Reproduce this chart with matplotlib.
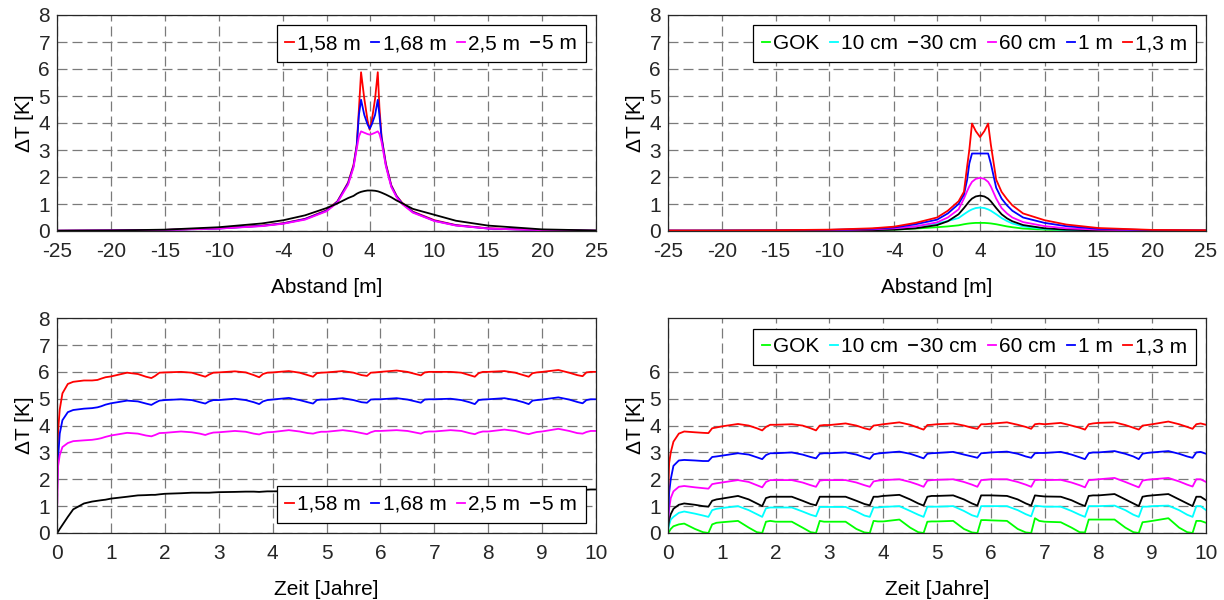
import matplotlib
matplotlib.use("Agg")
import matplotlib.pyplot as plt

plt.rcParams["font.family"] = ["Liberation Sans", "DejaVu Sans"]
plt.rcParams["font.size"] = 15

# --- top row: profiles over distance ---------------------------------------
x_top_left = [-25, -20, -15, -10, -6, -4, -2, 0, 1, 2, 2.5, 2.8, 3.0, 3.2, 3.5, 3.8, 4.0,
              4.2, 4.5, 4.75, 4.9, 5.1, 5.5, 6, 6.5, 7, 8, 10, 12, 15, 20, 25]
dt_158 = [0.01, 0.02, 0.04, 0.1, 0.2, 0.29, 0.45, 0.77, 1.1, 1.8, 2.45, 3.2, 4.5, 5.88, 4.9, 4.1, 3.75,
          4.1, 4.9, 5.88, 4.6, 3.5, 2.5, 1.7, 1.3, 1.05, 0.72, 0.4, 0.22, 0.1, 0.03, 0.01]
dt_168 = [0.01, 0.02, 0.04, 0.09, 0.19, 0.28, 0.44, 0.75, 1.08, 1.77, 2.4, 3.15, 4.3, 4.86, 4.3, 3.95, 3.79,
          3.95, 4.3, 4.86, 4.3, 3.45, 2.45, 1.67, 1.28, 1.03, 0.7, 0.38, 0.21, 0.09, 0.03, 0.01]
dt_250 = [0.01, 0.02, 0.04, 0.09, 0.18, 0.27, 0.42, 0.73, 1.05, 1.72, 2.35, 3.05, 3.5, 3.69, 3.64, 3.59, 3.57,
          3.59, 3.64, 3.69, 3.6, 3.3, 2.4, 1.63, 1.25, 1.0, 0.68, 0.37, 0.2, 0.09, 0.03, 0.01]
dt_500 = [0.01, 0.02, 0.05, 0.14, 0.28, 0.4, 0.58, 0.85, 1.02, 1.22, 1.3, 1.38, 1.42, 1.45, 1.48, 1.5, 1.5,
          1.5, 1.49, 1.47, 1.45, 1.42, 1.35, 1.25, 1.13, 1.03, 0.82, 0.6, 0.38, 0.2, 0.06, 0.02]

x_top_right = [-25, -20, -15, -10, -6, -4, -2, 0, 1, 2, 2.5, 2.8, 3.0, 3.25, 3.6, 4.0, 4.4, 4.75,
               5.0, 5.5, 6, 6.5, 7, 8, 10, 12, 15, 20, 25]
dt_gok = [0.0, 0.01, 0.01, 0.02, 0.03, 0.05, 0.09, 0.14, 0.17, 0.21, 0.25, 0.27, 0.28, 0.29, 0.3, 0.3,
          0.3, 0.29, 0.28, 0.25, 0.21, 0.17, 0.14, 0.09, 0.05, 0.03, 0.02, 0.01, 0.01]
dt_10cm = [0.0, 0.01, 0.01, 0.02, 0.04, 0.08, 0.17, 0.28, 0.37, 0.48, 0.62, 0.7, 0.75, 0.8, 0.85, 0.87,
           0.85, 0.8, 0.75, 0.62, 0.48, 0.37, 0.28, 0.17, 0.08, 0.04, 0.02, 0.01, 0.01]
dt_30cm = [0.0, 0.005, 0.01, 0.015, 0.03, 0.05, 0.1, 0.22, 0.36, 0.62, 0.85, 1.0, 1.1, 1.2, 1.28, 1.31,
           1.28, 1.2, 1.1, 0.85, 0.62, 0.47, 0.36, 0.22, 0.1, 0.05, 0.025, 0.012, 0.008]
dt_60cm = [0.01, 0.01, 0.02, 0.03, 0.06, 0.1, 0.17, 0.32, 0.5, 0.8, 1.2, 1.48, 1.65, 1.82, 1.93, 1.97,
           1.93, 1.82, 1.65, 1.2, 0.85, 0.65, 0.5, 0.33, 0.18, 0.1, 0.05, 0.02, 0.01]
dt_1m = [0.02, 0.02, 0.02, 0.04, 0.08, 0.13, 0.25, 0.42, 0.65, 1.0, 1.35, 1.9, 2.5, 2.87, 2.87, 2.87,
         2.87, 2.87, 2.5, 1.6, 1.2, 0.95, 0.75, 0.5, 0.3, 0.18, 0.08, 0.03, 0.02]
dt_13m = [0.02, 0.02, 0.03, 0.05, 0.1, 0.16, 0.3, 0.5, 0.75, 1.1, 1.45, 2.4, 3.0, 3.98, 3.7, 3.48,
          3.7, 3.98, 3.2, 1.9, 1.45, 1.18, 0.95, 0.65, 0.4, 0.24, 0.11, 0.04, 0.03]

# --- bottom row: time series ------------------------------------------------
t_years = [0, 0.02, 0.05, 0.1, 0.2, 0.3, 0.5, 0.65, 0.75, 0.82, 0.9,
           1.0, 1.3, 1.5, 1.65, 1.75, 1.82, 1.9,
           2.0, 2.3, 2.5, 2.65, 2.75, 2.82, 2.9,
           3.0, 3.3, 3.5, 3.65, 3.75, 3.82, 3.9,
           4.0, 4.3, 4.5, 4.65, 4.75, 4.82, 4.9,
           5.0, 5.3, 5.5, 5.65, 5.75, 5.82, 5.9,
           6.0, 6.3, 6.5, 6.65, 6.75, 6.82, 6.9,
           7.0, 7.3, 7.5, 7.65, 7.75, 7.82, 7.9,
           8.0, 8.3, 8.5, 8.65, 8.75, 8.82, 8.9,
           9.0, 9.3, 9.5, 9.65, 9.75, 9.82, 9.9,
           10.0]

ts_158 = [2.7, 3.8, 4.6, 5.2, 5.55, 5.63, 5.68, 5.68, 5.7, 5.75, 5.8,
          5.83, 5.97, 5.92, 5.82, 5.77, 5.85, 5.97,
          5.98, 6.0, 5.97, 5.88, 5.82, 5.9, 5.97,
          5.98, 6.02, 5.98, 5.88, 5.8, 5.92, 5.97,
          5.98, 6.03, 5.97, 5.88, 5.82, 5.95, 5.97,
          5.98, 6.03, 5.97, 5.88, 5.85, 5.97, 5.98,
          6.0, 6.05, 6.0, 5.92, 5.87, 5.98, 6.0,
          6.0, 6.0, 5.97, 5.88, 5.82, 5.95, 6.0,
          6.0, 6.03, 5.97, 5.88, 5.82, 5.95, 5.98,
          6.0, 6.07, 5.97, 5.88, 5.84, 5.98, 6.0,
          6.0]
ts_168 = [1.7, 2.8, 3.7, 4.2, 4.5, 4.58, 4.63, 4.65, 4.68, 4.72, 4.78,
          4.83, 4.93, 4.9, 4.82, 4.77, 4.85, 4.93,
          4.95, 4.98, 4.95, 4.87, 4.82, 4.9, 4.95,
          4.95, 5.0, 4.95, 4.87, 4.8, 4.9, 4.95,
          4.97, 5.03, 4.95, 4.87, 4.82, 4.95, 4.97,
          4.97, 5.02, 4.95, 4.87, 4.85, 4.97, 4.98,
          4.98, 5.02, 4.97, 4.9, 4.85, 4.97, 4.98,
          4.98, 5.0, 4.95, 4.87, 4.8, 4.95, 4.97,
          4.98, 5.02, 4.95, 4.87, 4.8, 4.93, 4.95,
          4.97, 5.05, 4.97, 4.88, 4.83, 4.95, 4.98,
          4.98]
ts_250 = [0.75, 2.5, 2.9, 3.2, 3.35, 3.42, 3.45, 3.47, 3.5, 3.53, 3.58,
          3.63, 3.73, 3.7, 3.63, 3.6, 3.65, 3.72,
          3.73, 3.78, 3.75, 3.7, 3.65, 3.7, 3.74,
          3.75, 3.8, 3.77, 3.7, 3.67, 3.72, 3.75,
          3.76, 3.83, 3.78, 3.72, 3.7, 3.74, 3.77,
          3.77, 3.83, 3.78, 3.72, 3.68, 3.75, 3.8,
          3.8, 3.83, 3.8, 3.74, 3.7, 3.76, 3.78,
          3.78, 3.83, 3.8, 3.72, 3.68, 3.74, 3.78,
          3.78, 3.85, 3.8, 3.72, 3.68, 3.72, 3.76,
          3.78, 3.88, 3.8, 3.72, 3.7, 3.76, 3.8,
          3.8]
ts_500 = [0.0, 0.05, 0.15, 0.3, 0.6, 0.88, 1.1, 1.17, 1.2, 1.22, 1.24,
          1.28, 1.35, 1.4, 1.41, 1.42, 1.42, 1.44,
          1.46, 1.48, 1.5, 1.5, 1.5, 1.5, 1.51,
          1.52, 1.53, 1.54, 1.54, 1.53, 1.54, 1.55,
          1.55, 1.56, 1.57, 1.56, 1.55, 1.56, 1.57,
          1.57, 1.58, 1.59, 1.58, 1.57, 1.58, 1.59,
          1.6, 1.6, 1.6, 1.59, 1.58, 1.59, 1.6,
          1.6, 1.61, 1.61, 1.6, 1.59, 1.6, 1.61,
          1.6, 1.62, 1.62, 1.61, 1.6, 1.6, 1.61,
          1.62, 1.63, 1.63, 1.62, 1.61, 1.61, 1.62,
          1.62]

ts_gok = [0.0, 0.05, 0.15, 0.25, 0.32, 0.35, 0.15, 0.03, 0.0, 0.32, 0.38,
          0.4, 0.45, 0.2, 0.03, 0.0, 0.42, 0.45,
          0.42, 0.42, 0.2, 0.03, 0.0, 0.45, 0.42,
          0.42, 0.42, 0.15, 0.02, 0.0, 0.45, 0.43,
          0.43, 0.5, 0.2, 0.03, 0.0, 0.42, 0.43,
          0.43, 0.45, 0.15, 0.02, 0.0, 0.48, 0.48,
          0.47, 0.45, 0.15, 0.02, 0.0, 0.55, 0.45,
          0.42, 0.4, 0.2, 0.03, 0.02, 0.5, 0.5,
          0.5, 0.5, 0.2, 0.03, 0.0, 0.4, 0.42,
          0.45, 0.55, 0.2, 0.03, 0.0, 0.45, 0.45,
          0.38]
ts_10cm = [0.1, 0.3, 0.5, 0.6, 0.75, 0.8, 0.72, 0.65, 0.6, 0.85, 0.9,
           0.93, 1.0, 0.85, 0.7, 0.6, 0.92, 0.95,
           0.95, 0.95, 0.8, 0.68, 0.62, 0.97, 0.97,
           0.97, 0.97, 0.8, 0.65, 0.6, 0.95, 0.95,
           0.97, 1.0, 0.82, 0.68, 0.6, 0.98, 0.98,
           0.98, 1.0, 0.82, 0.66, 0.6, 1.0, 1.0,
           1.0, 1.0, 0.85, 0.7, 0.62, 1.02, 1.0,
           0.98, 0.98, 0.82, 0.68, 0.6, 1.0, 1.0,
           1.0, 1.02, 0.85, 0.68, 0.6, 0.98, 0.98,
           1.0, 1.02, 0.85, 0.68, 0.6, 1.0, 1.0,
           0.85]
ts_30cm = [0.2, 0.5, 0.7, 0.9, 1.05, 1.1, 1.05, 1.0, 0.98, 1.2, 1.25,
           1.28, 1.38, 1.25, 1.1, 1.0, 1.3, 1.35,
           1.35, 1.35, 1.2, 1.08, 1.03, 1.35, 1.35,
           1.35, 1.35, 1.2, 1.08, 1.03, 1.35, 1.35,
           1.38, 1.42, 1.25, 1.1, 1.02, 1.35, 1.38,
           1.38, 1.4, 1.25, 1.1, 1.02, 1.4, 1.4,
           1.4, 1.38, 1.25, 1.1, 1.02, 1.4, 1.38,
           1.36, 1.35, 1.22, 1.08, 1.0, 1.38, 1.4,
           1.4, 1.45, 1.25, 1.1, 1.0, 1.35, 1.38,
           1.4, 1.45, 1.25, 1.1, 1.0, 1.35, 1.35,
           1.22]
ts_60cm = [0.4, 0.9, 1.3, 1.55, 1.72, 1.75, 1.7, 1.67, 1.65, 1.82, 1.85,
           1.88, 1.97, 1.9, 1.78, 1.7, 1.9, 1.97,
           1.97, 1.97, 1.88, 1.78, 1.72, 1.95, 1.97,
           1.97, 1.97, 1.88, 1.78, 1.72, 1.92, 1.95,
           1.97, 2.0, 1.9, 1.8, 1.72, 1.95, 1.97,
           1.98, 2.0, 1.9, 1.8, 1.72, 1.97, 1.98,
           2.0, 2.0, 1.9, 1.8, 1.72, 1.97, 1.98,
           1.97, 1.98, 1.88, 1.78, 1.7, 1.97, 1.98,
           2.0, 2.05, 1.9, 1.78, 1.7, 1.95, 1.98,
           2.0, 2.05, 1.92, 1.8, 1.73, 2.0, 2.0,
           1.9]
ts_1m = [0.5, 1.5, 2.0, 2.5, 2.7, 2.72, 2.7, 2.68, 2.68, 2.83, 2.85,
         2.88, 2.97, 2.92, 2.82, 2.75, 2.9, 2.97,
         2.97, 3.0, 2.92, 2.83, 2.78, 2.95, 2.97,
         2.97, 3.0, 2.92, 2.82, 2.76, 2.93, 2.96,
         2.98, 3.03, 2.95, 2.85, 2.78, 2.95, 2.97,
         2.98, 3.02, 2.92, 2.85, 2.8, 2.97, 2.98,
         3.0, 3.03, 2.95, 2.85, 2.8, 2.97, 2.98,
         2.98, 3.02, 2.92, 2.82, 2.75, 2.97, 3.0,
         3.0, 3.05, 2.95, 2.85, 2.75, 2.95, 2.98,
         3.0, 3.05, 2.95, 2.85, 2.8, 3.0, 3.02,
         2.95]
ts_13m = [1.3, 2.6, 3.0, 3.4, 3.7, 3.78, 3.75, 3.73, 3.72, 3.9, 3.93,
          3.97, 4.06, 4.0, 3.9, 3.82, 3.95, 4.03,
          4.03, 4.05, 4.0, 3.9, 3.82, 4.0, 4.02,
          4.02, 4.08, 4.0, 3.9, 3.85, 4.0, 4.02,
          4.05, 4.12, 4.03, 3.92, 3.85, 4.02, 4.03,
          4.05, 4.08, 4.0, 3.92, 3.88, 4.05, 4.05,
          4.07, 4.12, 4.03, 3.95, 3.88, 4.05, 4.07,
          4.05, 4.1, 4.0, 3.92, 3.85, 4.05, 4.08,
          4.1, 4.12, 4.02, 3.92, 3.85, 4.0, 4.02,
          4.05, 4.15, 4.05, 3.95, 3.88, 4.05, 4.08,
          4.03]

labels_left = ["1,58 m", "1,68 m", "2,5 m", "5 m"]
labels_right = ["GOK", "10 cm", "30 cm", "60 cm", "1 m", "1,3 m"]
colors_left = ["#ff0000", "#0000ff", "#ff00ff", "#000000"]
colors_right = ["#00ff00", "#00ffff", "#000000", "#ff00ff", "#0000ff", "#ff0000"]

dist_ticks = [-25, -20, -15, -10, -4, 0, 4, 10, 15, 20, 25]
year_ticks = [0, 1, 2, 3, 4, 5, 6, 7, 8, 9, 10]


def style_axes(ax):
    ax.grid(True, color="#7a7a7a", linestyle=(0, (8, 4)), linewidth=0.9)
    ax.set_axisbelow(True)
    for side in ax.spines.values():
        side.set_color("#262626")
        side.set_linewidth(0.9)
    ax.tick_params(direction="in", length=0, labelsize=15, colors="#262626")
    ax.tick_params(axis="x", pad=8)
    ax.tick_params(axis="y", pad=5)
    ax.set_ylabel("\u0394T [K]", fontsize=15, labelpad=3)


def add_legend(ax, loc):
    leg = ax.legend(loc=loc, ncol=len(ax.get_lines()), fontsize=15,
                    handlelength=0.4, handletextpad=0.15, columnspacing=0.5,
                    borderpad=0.42, borderaxespad=0.5, fancybox=False,
                    framealpha=1, edgecolor="#000000")
    leg.get_frame().set_linewidth(0.9)


fig = plt.figure(figsize=(12.24, 6), dpi=100)
ax_tl = fig.add_axes([0.0466, 0.615, 0.4404, 0.36])
ax_tr = fig.add_axes([0.5458, 0.615, 0.4395, 0.36])
ax_bl = fig.add_axes([0.0466, 0.1117, 0.4404, 0.358])
ax_br = fig.add_axes([0.5458, 0.1117, 0.4395, 0.358])

# top left
for ys, lab, col in zip([dt_158, dt_168, dt_250, dt_500], labels_left, colors_left):
    ax_tl.plot(x_top_left, ys, color=col, linewidth=1.3, label=lab)

# top right
for ys, lab, col in zip([dt_gok, dt_10cm, dt_30cm, dt_60cm, dt_1m, dt_13m], labels_right, colors_right):
    ax_tr.plot(x_top_right, ys, color=col, linewidth=1.3, label=lab)

for ax in (ax_tl, ax_tr):
    ax.set_xlim(-25, 25)
    ax.set_ylim(0, 8)
    ax.set_xticks(dist_ticks)
    ax.set_xticklabels([str(v) for v in dist_ticks])
    ax.set_yticks(range(0, 9))
    ax.set_xlabel("Abstand [m]", fontsize=15, labelpad=12)
    style_axes(ax)
    add_legend(ax, "upper right")

# bottom left
for ys, lab, col in zip([ts_158, ts_168, ts_250, ts_500], labels_left, colors_left):
    ax_bl.plot(t_years, ys, color=col, linewidth=1.3, label=lab)
ax_bl.set_yticks(range(0, 9))
add_legend(ax_bl, "lower right")

# bottom right
for ys, lab, col in zip([ts_gok, ts_10cm, ts_30cm, ts_60cm, ts_1m, ts_13m], labels_right, colors_right):
    ax_br.plot(t_years, ys, color=col, linewidth=1.3, label=lab)
ax_br.set_yticks(range(0, 7))
add_legend(ax_br, "upper right")

for ax in (ax_bl, ax_br):
    ax.set_xlim(0, 10)
    ax.set_ylim(0, 8)
    ax.set_xticks(year_ticks)
    ax.set_xlabel("Zeit [Jahre]", fontsize=15, labelpad=12)
    style_axes(ax)

fig.savefig("out.png", dpi=100)
